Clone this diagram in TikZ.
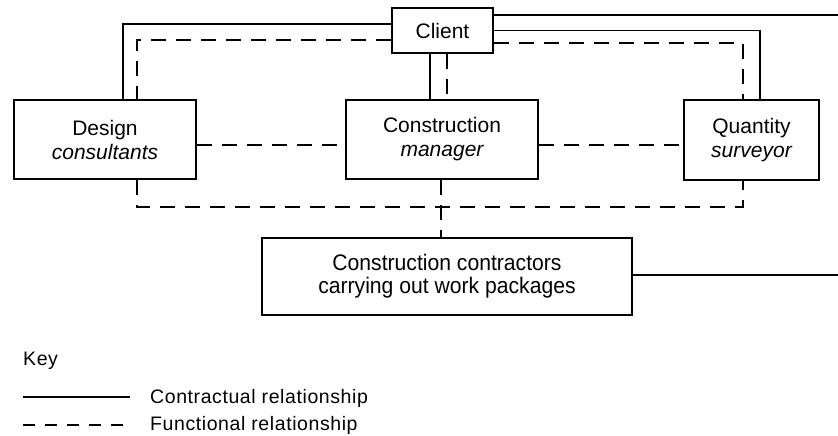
\documentclass[tikz,border=0pt]{standalone}
\usepackage{fontspec}
\setmainfont{Liberation Sans}
\newfontfamily\widefont[LetterSpace=3]{Liberation Sans}
\newfontfamily\narrowfont[FakeStretch=0.94]{Liberation Sans}
\begin{document}
\begin{tikzpicture}[x=1pt,y=-1pt,
  box/.style={draw,line width=1.8pt,rectangle,inner sep=0pt,align=center,
    font=\fontsize{21}{24}\selectfont},
  contract/.style={line width=1.8pt},
  functional/.style={line width=1.8pt,dash pattern=on 15pt off 10pt},
  keyfunc/.style={line width=1.8pt,dash pattern=on 12pt off 10pt},
  keytext/.style={anchor=base west,inner sep=0pt,font=\widefont\fontsize{19.5}{22}\selectfont}]
\useasboundingbox (0,0) rectangle (838,436);

% parties
\node[box,minimum width=101pt,minimum height=45pt] (client) at (442.5,30.5) {Client};
\node[box,minimum width=182pt,minimum height=79pt] (dc) at (105,139.5) {Design\\\itshape consultants};
\node[box,minimum width=192pt,minimum height=79pt] (cm) at (442,139.5) {Construction\\\itshape manager};
\node[box,minimum width=135pt,minimum height=80pt] (qs) at (751.5,140) {Quantity\\\itshape surveyor};
\node[box,minimum width=370pt,minimum height=77pt,
  font=\narrowfont\fontsize{22.5}{23}\selectfont] (cont) at (447,276.5)
  {Construction contractors\\carrying out work packages};

% free ends at the right edge and the corner of the lower functional bus
\coordinate (edgetop) at (838,15);
\coordinate (edgecont) at (838,275);
\coordinate (busleft) at (137,207);

% contractual links
\draw[contract] ([yshift=6.5pt]client.west) -| ([xshift=18pt]dc.north);
\draw[contract] ([xshift=-12.5pt]client.south) -- ([xshift=-12.5pt]client.south |- cm.north);
\draw[contract] (client.east) -| ([xshift=8.5pt]qs.north);
\draw[contract] ([yshift=15.5pt]client.east) -- (edgetop);
\draw[contract] ([yshift=1.5pt]cont.east) -- (edgecont);

% functional links
\draw[functional] ([yshift=-9.5pt]client.west) -| ([xshift=32pt]dc.north);
\draw[functional] ([xshift=4.5pt]client.south) -- ([xshift=4.5pt]client.south |- cm.north);
\draw[functional] ([yshift=-12.5pt]client.east) -| ([xshift=-8.5pt]qs.north);
\draw[functional] ([yshift=-5.5pt]dc.east) -- ([yshift=-5.5pt]dc.east -| cm.west);
\draw[functional] ([yshift=-5.5pt]cm.east) -- ([yshift=-5.5pt]cm.east -| qs.west);
\draw[functional] ([xshift=32pt]dc.south) -- (busleft) -| ([xshift=-8.5pt]qs.south);
\draw[functional] ([xshift=-1pt]cm.south) -- ([xshift=-1pt]cm.south |- cont.north);

% key
\node[keytext] (keytitle) at (23,365) {Key};
\coordinate (ks1) at (23,397);
\coordinate (ks2) at (130,397);
\coordinate (kf1) at (23,425);
\coordinate (kf2) at (130,425);
\draw[contract] (ks1) -- (ks2);
\draw[keyfunc] (kf1) -- (kf2);
\node[keytext] (kc) at (150,403) {Contractual relationship};
\node[keytext] (kfn) at (150,430) {Functional relationship};
\end{tikzpicture}
\end{document}
